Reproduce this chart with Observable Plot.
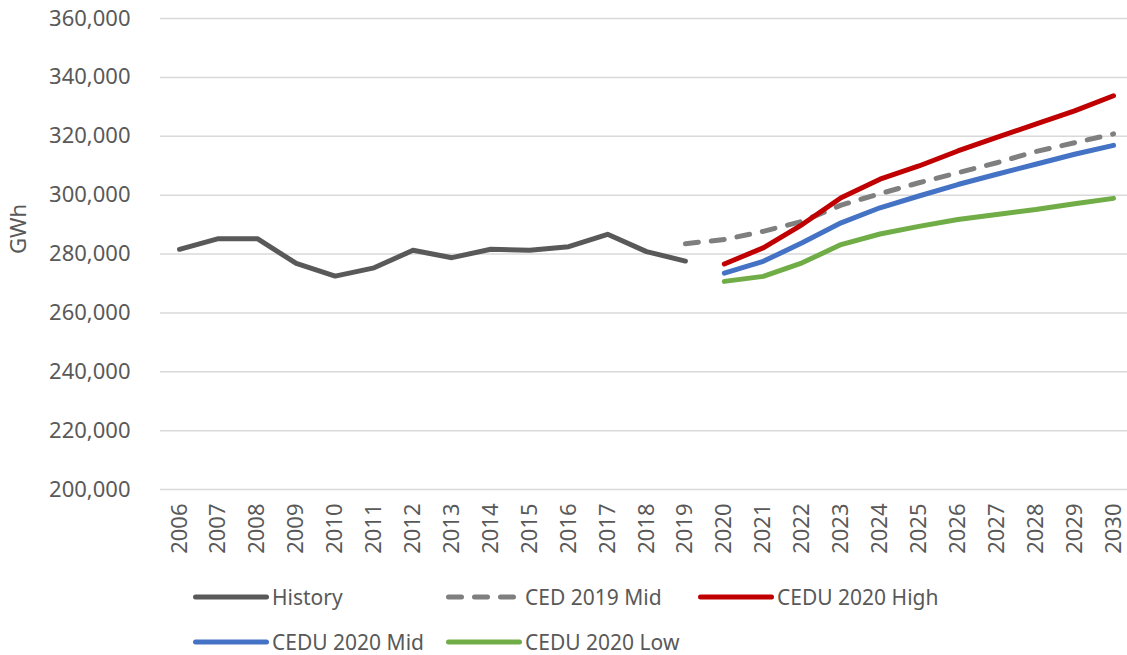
<!DOCTYPE html>
<html>
<head>
<meta charset="utf-8">
<script src="https://cdn.jsdelivr.net/npm/d3@7"></script>
<script src="https://cdn.jsdelivr.net/npm/@observablehq/plot@0.6"></script>
<style>
  html, body { margin: 0; padding: 0; background: #fff; }
  #chart { width: 1127px; font-family: "Noto Sans", sans-serif; color: #595959; }
  #legend { position: relative; width: 1127px; height: 80px; font-size: 21px; color: #595959; }
  .item { position: absolute; display: flex; align-items: center; height: 44px; white-space: nowrap; }
  .item svg { display: block; margin-right: 3px; }
</style>
</head>
<body>
<div id="chart"></div>
<script>
// ---- data ----
const years = d3.range(2006, 2031);
const historyYears = d3.range(2006, 2020);
const historyValues = [281600, 285200, 285200, 276800, 272500, 275300, 281250, 278750, 281600, 281250, 282500, 286700, 280800, 277600];
const cedYears = d3.range(2019, 2031);
const cedValues = [283500, 284900, 287700, 291100, 296600, 300500, 304200, 307600, 311000, 314800, 317800, 320800];
const forecastYears = d3.range(2020, 2031);
const highValues = [276600, 282100, 290000, 299100, 305400, 309900, 315000, 319600, 324100, 328600, 333750];
const midValues = [273500, 277500, 283800, 290600, 295700, 299700, 303600, 307100, 310500, 313900, 316900];
const lowValues = [270700, 272400, 277000, 283200, 286800, 289400, 291700, 293400, 295100, 297100, 298900];
const yTicks = [200000, 220000, 240000, 260000, 280000, 300000, 320000, 340000, 360000];
const seriesNames = ["History", "CED 2019 Mid", "CEDU 2020 High", "CEDU 2020 Mid", "CEDU 2020 Low"];
const seriesColors = ["#595959", "#7f7f7f", "#c00000", "#4472c4", "#70ad47"];
const seriesDash = [null, "13,13", null, null, null];

const toRows = (xs, vs) => xs.map((x, i) => ({year: x, value: vs[i]}));
const series = [
  toRows(historyYears, historyValues),
  toRows(cedYears, cedValues),
  toRows(forecastYears, highValues),
  toRows(forecastYears, midValues),
  toRows(forecastYears, lowValues)
];

const lineMarks = series.map((rows, i) => Plot.lineY(rows, {
  x: "year", y: "value",
  stroke: seriesColors[i], strokeWidth: 5,
  strokeLinecap: "round", strokeLinejoin: "round",
  strokeDasharray: seriesDash[i] ?? undefined
}));

const chart = Plot.plot({
  width: 1127,
  height: 575,
  marginTop: 18,
  marginBottom: 86,
  marginLeft: 160,
  marginRight: 0,
  style: {fontFamily: "Noto Sans, sans-serif", fontSize: "22px", color: "#595959", background: "#fff"},
  x: {type: "linear", domain: [2006, 2030], range: [179, 1113]},
  y: {domain: [200000, 360000]},
  marks: [
    Plot.ruleY(yTicks, {stroke: "#d9d9d9", strokeWidth: 1.5}),
    Plot.axisY({ticks: yTicks, tickSize: 0, tickPadding: 30, tickFormat: d3.format(","), label: null, fontSize: 22}),
    Plot.axisX({ticks: years, tickSize: 0, tickPadding: 14, tickRotate: -90, label: null, tickFormat: d => String(d), fontSize: 22}),
    Plot.text(["GWh"], {frameAnchor: "left", dx: -142, rotate: -90, fontSize: 22, fill: "#595959", text: d => d}),
    ...lineMarks
  ]
});
document.getElementById("chart").appendChild(chart);

// ---- legend ----
const legend = document.createElement("div");
legend.id = "legend";
const positions = [[193, 0], [446, 0], [698, 0], [193, 45], [446, 45]];
seriesNames.forEach((name, i) => {
  const item = document.createElement("div");
  item.className = "item";
  item.style.left = positions[i][0] + "px";
  item.style.top = positions[i][1] + "px";
  const dash = seriesDash[i] ? `stroke-dasharray="13,13"` : "";
  item.innerHTML = `<svg width="76" height="12"><line x1="2.5" y1="6" x2="73.5" y2="6" stroke="${seriesColors[i]}" stroke-width="5" stroke-linecap="round" ${dash}/></svg><span>${name}</span>`;
  legend.appendChild(item);
});
document.getElementById("chart").appendChild(legend);
</script>
</body>
</html>
